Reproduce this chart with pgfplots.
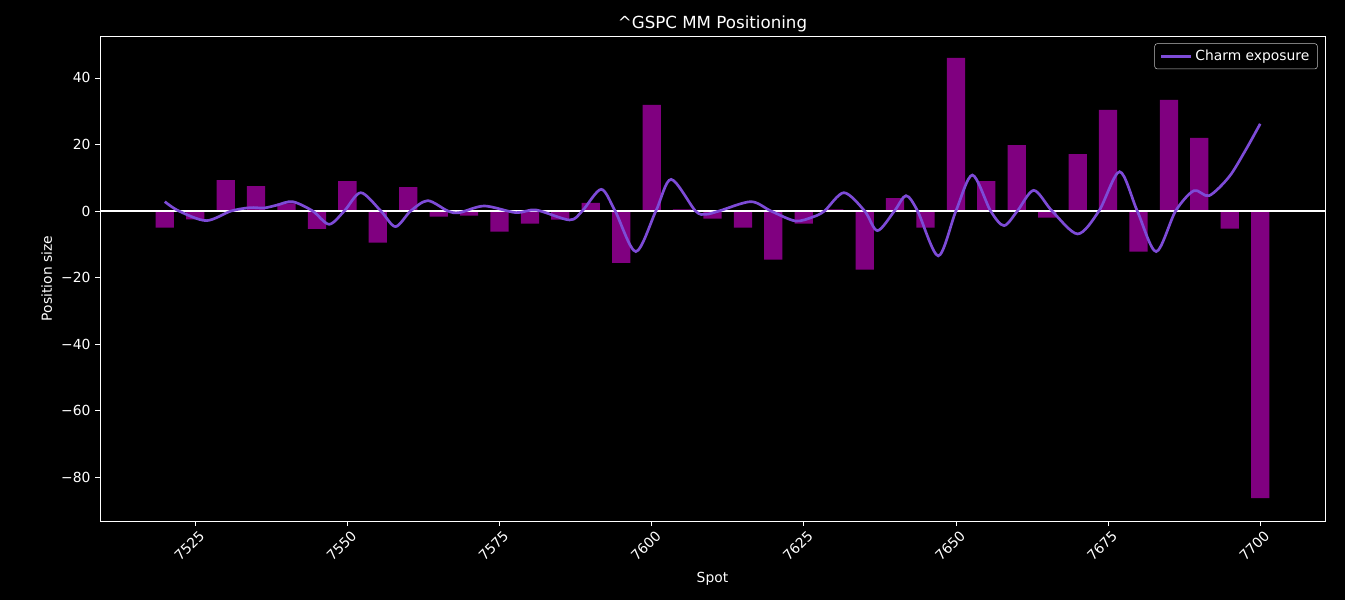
\documentclass[border=0pt]{standalone}
\usepackage{pgfplots}
\pgfplotsset{compat=1.18}
\usepackage{fontspec}
\setmainfont{DejaVu Sans}
\definecolor{barc}{RGB}{128,0,128}
\definecolor{linec}{RGB}{125,75,215}
\definecolor{legedge}{RGB}{190,190,190}
\pgfplotstableread{
x y
7520 -5.0
7525 -2.5
7530 9.3
7535 7.5
7540 2.3
7545 -5.4
7550 9.0
7555 -9.5
7560 7.2
7565 -1.7
7570 -1.4
7575 -6.2
7580 -3.8
7585 -2.6
7590 2.4
7595 -15.6
7600 31.9
7605 0.5
7610 -2.3
7615 -5.0
7620 -14.6
7625 -3.8
7630 0.5
7635 -17.6
7640 3.9
7645 -5.0
7650 46.0
7655 9.0
7660 19.8
7665 -2.0
7670 17.1
7675 30.4
7680 -12.2
7685 33.4
7690 22.0
7695 -5.3
7700 -86.3
}\bars
\pgfplotstableread{
x y
7520 2.8
7522.3 0
7526.8 -2.9
7530.9 0
7534.0 1.0
7536.3 0.9
7538.5 1.8
7541.0 2.8
7544.3 0
7547.0 -4.0
7549.5 0
7552.2 5.5
7555.5 0
7557.9 -4.7
7560.4 0
7563.2 3.1
7566.5 0
7568.4 -0.5
7572.5 1.5
7577.7 -0.5
7581.0 0.3
7586.5 -2.7
7588.6 0
7591.7 6.5
7594.0 0
7597.4 -12.2
7600.7 0
7603.2 9.5
7607.2 0
7608.9 -1.0
7611.1 0
7616.3 2.8
7619.6 0
7623.6 -3.0
7626.5 -1.8
7628.4 0
7631.6 5.5
7635.0 0
7637.1 -5.9
7639.9 0
7641.8 4.6
7643.7 0
7647.1 -13.5
7650.0 0
7652.7 10.8
7655.7 0
7657.9 -4.4
7660.1 0
7662.8 6.2
7665.8 0
7670.0 -6.9
7673.5 0
7676.9 11.8
7679.8 0
7682.9 -12.2
7686.1 0
7689.1 6.1
7691.6 4.6
7694.9 10.3
7697.6 18.3
7700 26.2
}\charm
\begin{document}
\begin{tikzpicture}
\fill[black] (-75pt,-59.25pt) rectangle (933.75pt,390.75pt);
\begin{axis}[
  scale only axis,
  width=918.75pt, height=363.75pt,
  xmin=7509.35, xmax=7710.65,
  ymin=-93.2, ymax=52.6,
  axis line style={white, line width=0.6pt},
  axis background/.style={fill=black},
  tick style={white, line width=0.6pt},
  tick align=outside,
  major tick length=3.6pt,
  xtick={7525,7550,7575,7600,7625,7650,7675,7700},
  ytick={-80,-60,-40,-20,0,20,40},
  yticklabels={−80,−60,−40,−20,0,20,40},
  /pgf/number format/assume math mode=true,
  /pgf/number format/1000 sep={},
  xtick pos=bottom, ytick pos=left,
  ticklabel style={font=\fontsize{10.4}{12}\selectfont, text=white},
  xticklabel style={rotate=45, anchor=north east, xshift=3pt},
  title={\textasciicircum GSPC MM Positioning},
  title style={at={(0.5,1)}, anchor=center, yshift=3pt, font=\fontsize{12.5}{14}\selectfont, text=white},
  xlabel={Spot},
  xlabel style={at={(0.5,-0.1155)}, anchor=center, yshift=-1pt, font=\fontsize{10.4}{12}\selectfont, text=white},
  ylabel={Position size},
  ylabel style={at={(-0.0435,0.5)}, anchor=center, font=\fontsize{10.4}{12}\selectfont, text=white},
  legend style={at={(1,1)}, anchor=north east, xshift=-5.5pt, yshift=-5.5pt,
    fill=black, draw=legedge, rounded corners=2pt, text=white,
    font=\fontsize{10.4}{12}\selectfont, inner xsep=4pt, inner ysep=2.8pt},
  legend image code/.code={\draw[#1] (0pt,0pt) -- (22.5pt,0pt);},
  clip=true,
]
\addplot[ybar, bar width=3, fill=barc, draw=none, forget plot] table[x=x,y=y] {\bars};
\addplot[white, line width=1.2pt, forget plot] coordinates {(7509.35,0) (7710.65,0)};
\addplot[linec, line width=2pt, smooth, tension=0.5] table[x=x,y=y] {\charm};
\addlegendentry{Charm exposure}
\end{axis}
\end{tikzpicture}
\end{document}
